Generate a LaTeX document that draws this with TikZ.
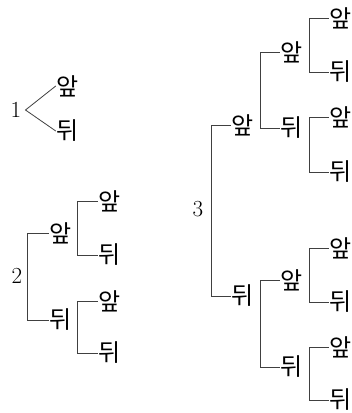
\documentclass[tikz,border=0pt]{standalone}
\usepackage{fontspec}
\newfontfamily\krfont{Noto Sans CJK KR}
\usetikzlibrary{calc}

\begin{document}
\begin{tikzpicture}[
    x=1pt, y=-1pt,
    lbl/.style    = {font=\krfont\fontsize{24}{26}\selectfont, inner sep=1pt},
    num/.style    = {font=\fontsize{23}{25}\selectfont, inner sep=4pt},
    branch/.style = {draw=black!75, line width=0.8pt},
  ]
  \useasboundingbox (0,0) rectangle (352,413);

  % Baum 1
  \node[num] (T1)  at (16,110) {1};
  \node[lbl] (T1a) at (68,86)  {앞};
  \node[lbl] (T1b) at (68,131) {뒤};
  \draw[branch] (T1a.west) -- (T1.east) -- (T1b.west);

  % Baum 2
  \node[num] (T2)   at (17,276)  {2};
  \node[lbl] (T2a)  at (61,233)  {앞};
  \node[lbl] (T2b)  at (61,320)  {뒤};
  \node[lbl] (T2aa) at (110,201) {앞};
  \node[lbl] (T2ab) at (110,255) {뒤};
  \node[lbl] (T2ba) at (110,301) {앞};
  \node[lbl] (T2bb) at (110,353) {뒤};
  \draw[branch] (T2a.west)  -- ++(-21,0) |- (T2b.west);
  \draw[branch] (T2aa.west) -- ++(-20,0) |- (T2ab.west);
  \draw[branch] (T2ba.west) -- ++(-20,0) |- (T2bb.west);

  % Baum 3
  \node[num] (T3)   at (198,209) {3};
  \node[lbl] (T3a)  at (243,125) {앞};
  \node[lbl] (T3b)  at (243,296) {뒤};
  \draw[branch] (T3a.west) -- ++(-19,0) |- (T3b.west);
  % zweite Stufe
  \node[lbl] (T3aa) at (292,52)  {앞};
  \node[lbl] (T3ab) at (292,128) {뒤};
  \node[lbl] (T3ba) at (292,280) {앞};
  \node[lbl] (T3bb) at (292,367) {뒤};
  \draw[branch] (T3aa.west) -- ++(-19,0) |- (T3ab.west);
  \draw[branch] (T3ba.west) -- ++(-19,0) |- (T3bb.west);
  % dritte Stufe
  \node[lbl] (T3aaa) at (341,18)  {앞};
  \node[lbl] (T3aab) at (341,72)  {뒤};
  \node[lbl] (T3aba) at (341,117) {앞};
  \node[lbl] (T3abb) at (341,172) {뒤};
  \node[lbl] (T3baa) at (341,248) {앞};
  \node[lbl] (T3bab) at (341,302) {뒤};
  \node[lbl] (T3bba) at (341,347) {앞};
  \node[lbl] (T3bbb) at (341,400) {뒤};
  \draw[branch] (T3aaa.west) -- ++(-19,0) |- (T3aab.west);
  \draw[branch] (T3aba.west) -- ++(-19,0) |- (T3abb.west);
  \draw[branch] (T3baa.west) -- ++(-19,0) |- (T3bab.west);
  \draw[branch] (T3bba.west) -- ++(-19,0) |- (T3bbb.west);

\end{tikzpicture}
\end{document}
